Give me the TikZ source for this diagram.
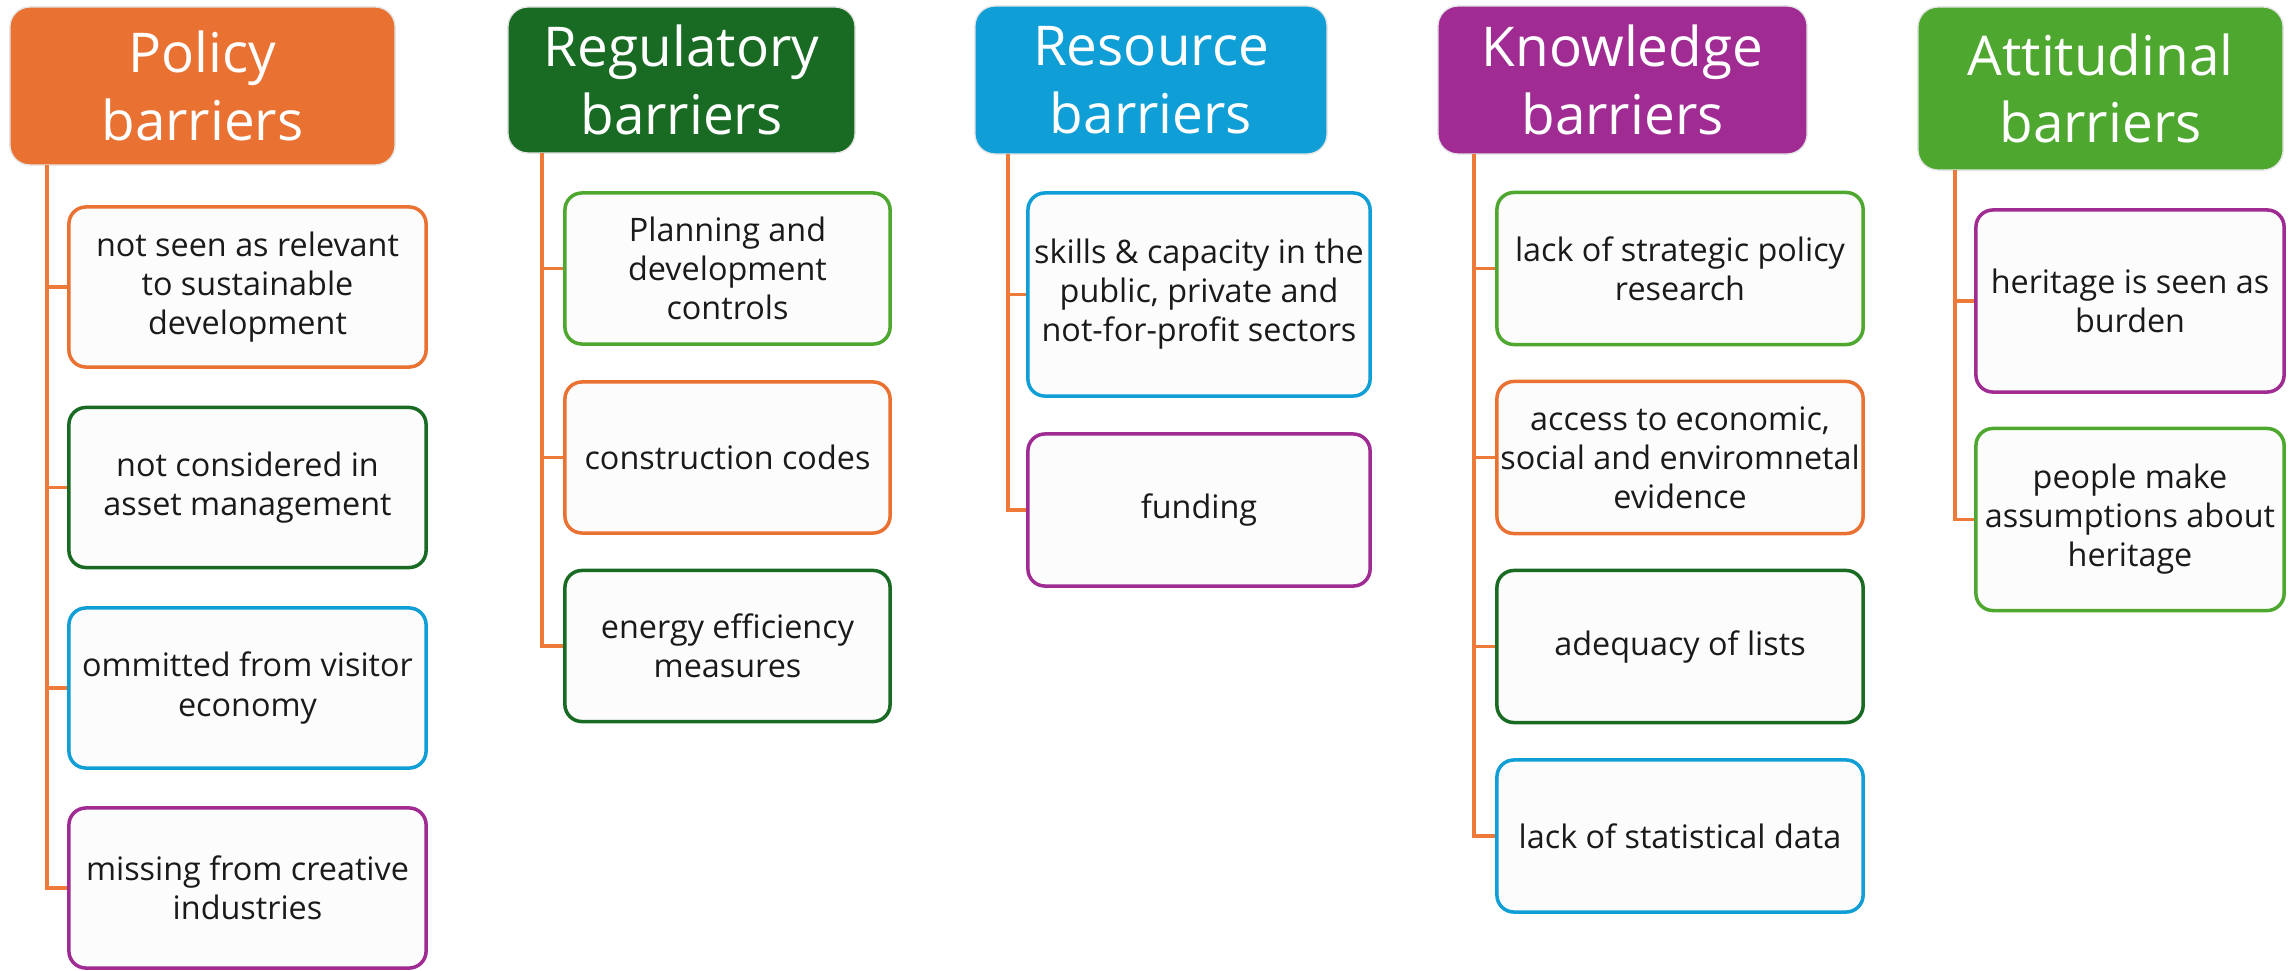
\documentclass[tikz,border=0pt]{standalone}
\usepackage{fontspec}
\setmainfont{Open Sans}
\definecolor{cPol}{HTML}{E97132}
\definecolor{cReg}{HTML}{196B24}
\definecolor{cRes}{HTML}{0F9ED5}
\definecolor{cKno}{HTML}{A02B93}
\definecolor{cAtt}{HTML}{4EA72E}
\definecolor{kidfill}{HTML}{FCFCFC}
\definecolor{textc}{HTML}{1A1A1A}
\definecolor{connc}{HTML}{EE7A3A}
\begin{document}
\begin{tikzpicture}[x=0.01cm,y=-0.01cm,
  hdr/.style={rounded corners=0.2cm, draw=gray!20, line width=0.4pt, text=white,
    font=\fontsize{15.6}{19.2}\selectfont, align=center, inner sep=0pt},
  kid/.style={rounded corners=0.17cm, fill=kidfill, line width=1pt, align=center,
    font=\fontsize{9.2}{11.1}\selectfont, text=textc, inner sep=0pt},
  conn/.style={draw=connc, line width=0.9pt}]
\useasboundingbox (0,0) rectangle (2292,970);

% Policy
\node[hdr, fill=cPol, minimum width=3.85cm, minimum height=1.58cm] (ph) at (202.5,86) {Policy\\barriers};
\begin{scope}[every node/.style={kid, minimum width=3.57cm, minimum height=1.60cm}]
\node[draw=cPol] (p1) at (247.5,287) {not seen as relevant\\to sustainable\\development};
\node[draw=cReg] (p2) at (247.5,487.5) {not considered in\\asset management};
\node[draw=cRes] (p3) at (247.5,688) {ommitted from visitor\\economy};
\node[draw=cKno] (p4) at (247.5,888) {missing from creative\\industries};
\end{scope}
\coordinate (pt) at (47,165);

% Regulatory
\node[hdr, fill=cReg, minimum width=3.47cm, minimum height=1.46cm] (rh) at (681.5,80) {Regulatory\\barriers};
\begin{scope}[every node/.style={kid, minimum width=3.25cm, minimum height=1.51cm}]
\node[draw=cAtt] (r1) at (727.5,268.5) {Planning and\\development\\controls};
\node[draw=cPol] (r2) at (727.5,457.5) {construction codes};
\node[draw=cReg] (r3) at (727.5,646) {energy efficiency\\measures};
\end{scope}
\coordinate (rt) at (542,153);

% Resource
\node[hdr, fill=cRes, minimum width=3.52cm, minimum height=1.48cm] (sh) at (1151,80) {Resource\\barriers};
\begin{scope}[every node/.style={kid, minimum width=3.42cm}]
\node[draw=cRes, minimum height=2.03cm] (s1) at (1199,294.5) {skills \& capacity in the\\public, private and\\not-for-profit sectors};
\node[draw=cKno, minimum height=1.52cm] (s2) at (1199,510) {funding};
\end{scope}
\coordinate (st) at (1008,154);

% Knowledge
\node[hdr, fill=cKno, minimum width=3.69cm, minimum height=1.48cm] (kh) at (1622.5,80) {Knowledge\\barriers};
\begin{scope}[every node/.style={kid, minimum width=3.66cm, minimum height=1.52cm}]
\node[draw=cAtt] (k1) at (1680,268.5) {lack of strategic policy\\research};
\node[draw=cPol] (k2) at (1680,457.5) {access to economic,\\social and enviromnetal\\evidence};
\node[draw=cReg] (k3) at (1680,646.5) {adequacy of lists};
\node[draw=cRes] (k4) at (1680,836) {lack of statistical data};
\end{scope}
\coordinate (kt) at (1474,154);

% Attitudinal
\node[hdr, fill=cAtt, minimum width=3.65cm, minimum height=1.63cm] (ah) at (2100.5,88.5) {Attitudinal\\barriers};
\begin{scope}[every node/.style={kid, minimum width=3.08cm, minimum height=1.82cm}]
\node[draw=cKno] (a1) at (2130,301) {heritage is seen as\\burden};
\node[draw=cAtt] (a2) at (2130,519.5) {people make\\assumptions about\\heritage};
\end{scope}
\coordinate (at) at (1955,170);

% connectors
\draw[conn] (pt) |- (p4.west);
\foreach \n in {p1,p2,p3} \draw[conn] (pt |- \n.west) -- (\n.west);
\draw[conn] (rt) |- (r3.west);
\foreach \n in {r1,r2} \draw[conn] (rt |- \n.west) -- (\n.west);
\draw[conn] (st) |- (s2.west);
\draw[conn] (st |- s1.west) -- (s1.west);
\draw[conn] (kt) |- (k4.west);
\foreach \n in {k1,k2,k3} \draw[conn] (kt |- \n.west) -- (\n.west);
\draw[conn] (at) |- (a2.west);
\draw[conn] (at |- a1.west) -- (a1.west);
\end{tikzpicture}
\end{document}
